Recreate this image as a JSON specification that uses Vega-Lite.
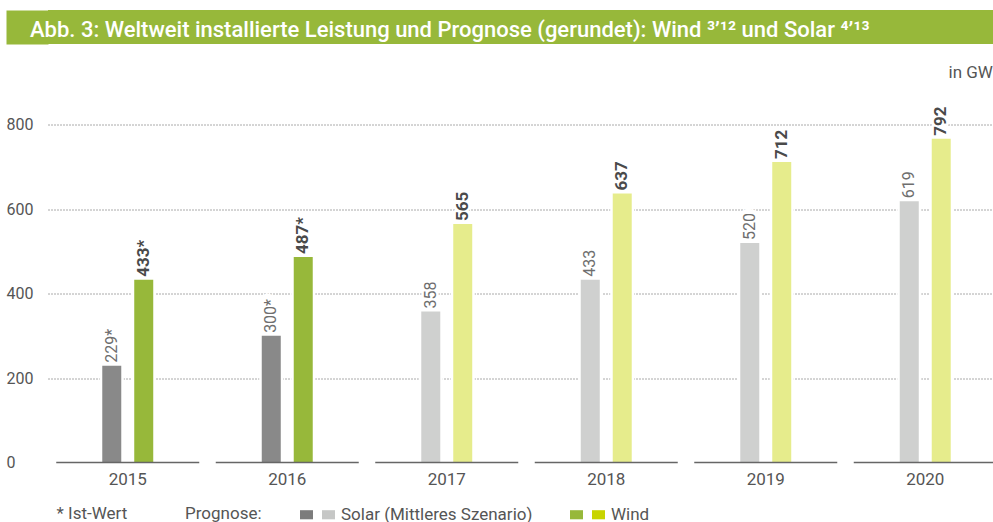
{
  "$schema": "https://vega.github.io/schema/vega-lite/v6.json",
  "padding": {"left": 6, "top": 10, "right": 0, "bottom": 0},
  "background": "white",
  "config": {"font": "Roboto", "view": {"stroke": null}},
  "datasets": {
    "bars": [
      {"year": "2015", "type": "Solar", "cat": "Solar Ist", "value": 229, "label": "229*"},
      {"year": "2015", "type": "Wind", "cat": "Wind Ist", "value": 433, "label": "433*"},
      {"year": "2016", "type": "Solar", "cat": "Solar Ist", "value": 300, "label": "300*"},
      {"year": "2016", "type": "Wind", "cat": "Wind Ist", "value": 487, "label": "487*"},
      {"year": "2017", "type": "Solar", "cat": "Solar Prognose", "value": 358, "label": "358"},
      {"year": "2017", "type": "Wind", "cat": "Wind Prognose", "value": 565, "label": "565"},
      {"year": "2018", "type": "Solar", "cat": "Solar Prognose", "value": 433, "label": "433"},
      {"year": "2018", "type": "Wind", "cat": "Wind Prognose", "value": 637, "label": "637"},
      {"year": "2019", "type": "Solar", "cat": "Solar Prognose", "value": 520, "label": "520"},
      {"year": "2019", "type": "Wind", "cat": "Wind Prognose", "value": 712, "label": "712"},
      {"year": "2020", "type": "Solar", "cat": "Solar Prognose", "value": 619, "label": "619"},
      {"year": "2020", "type": "Wind", "cat": "Wind Prognose", "value": 767, "label": "792"}
    ],
    "base": [
      {"year": "2015", "value": 0}, {"year": "2016", "value": 0}, {"year": "2017", "value": 0},
      {"year": "2018", "value": 0}, {"year": "2019", "value": 0}, {"year": "2020", "value": 0}
    ]
  },
  "spacing": 14.5,
  "vconcat": [
    {
      "width": 1000,
      "height": 34,
      "view": {"fill": "#97b83a", "stroke": null},
      "title": {
        "text": "Abb. 3: Weltweit installierte Leistung und Prognose (gerundet): Wind ³’¹² und Solar ⁴’¹³",
        "anchor": "start",
        "frame": "group",
        "orient": "bottom",
        "offset": -10,
        "dx": -18,
        "baseline": "alphabetic",
        "color": "#ffffff",
        "font": "Roboto",
        "fontSize": 22,
        "fontWeight": 500
      },
      "data": {"name": "base"},
      "mark": {"type": "point", "opacity": 0},
      "encoding": {
        "y": {"field": "value", "type": "quantitative", "scale": {"domain": [0, 1]},
              "axis": {"orient": "left", "offset": 21, "domain": true, "domainColor": "#97b83a", "domainWidth": 42,
                       "domainCap": "butt", "labels": false, "ticks": false, "grid": false, "title": null}}
      }
    },
    {
      "width": 957,
      "height": 401,
      "encoding": {
        "x": {"field": "year", "type": "nominal",
              "scale": {"domain": ["2015", "2016", "2017", "2018", "2019", "2020"], "paddingInner": 0, "paddingOuter": 0},
              "axis": {"orient": "bottom", "domain": false, "ticks": false, "grid": false, "labelPadding": 9,
                       "labelAngle": 0, "labelFont": "Roboto", "labelFontSize": 17, "labelColor": "#555555",
                       "title": "* Ist-Wert", "titleAnchor": "start", "titleX": 8, "titleY": 51,
                       "titleAlign": "left", "titleBaseline": "middle", "titleFont": "Roboto",
                       "titleFontSize": 17, "titleFontWeight": "normal", "titleColor": "#555555"}},
        "y": {"field": "value", "type": "quantitative",
              "scale": {"domain": [0, 950], "nice": false},
              "axis": {"values": [0, 200, 400, 600, 800], "orient": "left", "domain": false, "ticks": false,
                       "grid": true, "gridColor": "#555555", "gridDash": [1, 2], "gridWidth": 1,
                       "gridOpacity": {"condition": {"test": "datum.value === 0", "value": 0}, "value": 1},
                       "labelAlign": "left", "labelPadding": 42,
                       "labelBaseline": "middle", "labelFont": "Roboto", "labelFontSize": 16, "labelColor": "#555555",
                       "title": "in GW", "titleAngle": 0, "titleX": 900, "titleY": 11, "titleAlign": "left",
                       "titleBaseline": "middle", "titleFont": "Roboto", "titleFontSize": 17,
                       "titleFontWeight": "normal", "titleColor": "#555555"}}
      },
      "layer": [
        {
          "data": {"name": "bars"},
          "mark": {"type": "bar", "fill": "white", "stroke": "white", "strokeWidth": 5, "width": 19},
          "encoding": {
            "xOffset": {"field": "type", "type": "nominal", "scale": {"domain": ["a", "Solar", "Wind", "b"], "paddingInner": 0.406, "paddingOuter": 0.6965}}
          }
        },
        {
          "data": {"name": "bars"},
          "mark": {"type": "bar", "width": 19},
          "encoding": {
            "xOffset": {"field": "type", "type": "nominal", "scale": {"domain": ["a", "Solar", "Wind", "b"], "paddingInner": 0.406, "paddingOuter": 0.6965}},
            "color": {"field": "cat", "type": "nominal",
                      "scale": {"domain": ["Solar Ist", "Solar Prognose", "Wind Ist", "Wind Prognose"],
                                "range": ["#7c7c7c", "#c6c7c6", "#97b83a", "#c8d400"]},
                      "legend": {"orient": "none", "legendX": 137, "legendY": 496, "direction": "horizontal",
                                 "title": "Prognose:", "titleOrient": "left", "titlePadding": 36,
                                 "titleFont": "Roboto", "titleFontSize": 17, "titleFontWeight": "normal",
                                 "titleColor": "#555555", "labelFont": "Roboto", "labelFontSize": 17,
                                 "labelColor": "#555555", "labelOffset": 4, "columnPadding": 1, "padding": 0,
                                 "labelLimit": 400,
                                 "symbolType": "M-1,-0.7H1V0.7H-1Z", "symbolSize": 169, "symbolStrokeWidth": 0,
                                 "symbolOpacity": 1, "labelBaseline": "middle",
                                 "labelExpr": "datum.label == 'Solar Prognose' ? 'Solar (Mittleres Szenario)\u00a0\u00a0\u00a0\u00a0\u00a0\u00a0\u00a0\u00a0\u200b' : datum.label == 'Wind Prognose' ? 'Wind' : ''"}},
            "opacity": {"condition": [
                          {"test": "datum.cat == 'Solar Ist'", "value": 0.9},
                          {"test": "datum.cat == 'Solar Prognose'", "value": 0.84},
                          {"test": "datum.cat == 'Wind Prognose'", "value": 0.45}
                        ], "value": 1}
          }
        },
        {
          "data": {"name": "base"},
          "mark": {"type": "tick", "size": 143, "thickness": 1.6, "color": "#666666", "opacity": 1}
        },
        {
          "data": {"name": "bars"},
          "mark": {"type": "text", "angle": 270, "align": "left", "baseline": "middle", "dx": 3,
                   "fontSize": 17, "fontWeight": "bold", "fill": "white", "stroke": "white", "strokeWidth": 5, "strokeJoin": "round"},
          "encoding": {
            "xOffset": {"field": "type", "type": "nominal", "scale": {"domain": ["a", "Solar", "Wind", "b"], "paddingInner": 0.406, "paddingOuter": 0.6965}},
            "text": {"field": "label", "type": "nominal"}
          }
        },
        {
          "data": {"name": "bars"},
          "transform": [{"filter": "datum.type == 'Solar'"}],
          "mark": {"type": "text", "angle": 270, "align": "left", "baseline": "middle", "dx": 3,
                   "fontSize": 16, "fontWeight": "normal", "fill": "#6e6e6e"},
          "encoding": {
            "xOffset": {"field": "type", "type": "nominal", "scale": {"domain": ["a", "Solar", "Wind", "b"], "paddingInner": 0.406, "paddingOuter": 0.6965}},
            "text": {"field": "label", "type": "nominal"}
          }
        },
        {
          "data": {"name": "bars"},
          "transform": [{"filter": "datum.type == 'Wind'"}],
          "mark": {"type": "text", "angle": 270, "align": "left", "baseline": "middle", "dx": 3,
                   "fontSize": 17, "fontWeight": "bold", "fill": "#4a4a4a"},
          "encoding": {
            "xOffset": {"field": "type", "type": "nominal", "scale": {"domain": ["a", "Solar", "Wind", "b"], "paddingInner": 0.406, "paddingOuter": 0.6965}},
            "text": {"field": "label", "type": "nominal"}
          }
        }
      ]
    }
  ]
}
